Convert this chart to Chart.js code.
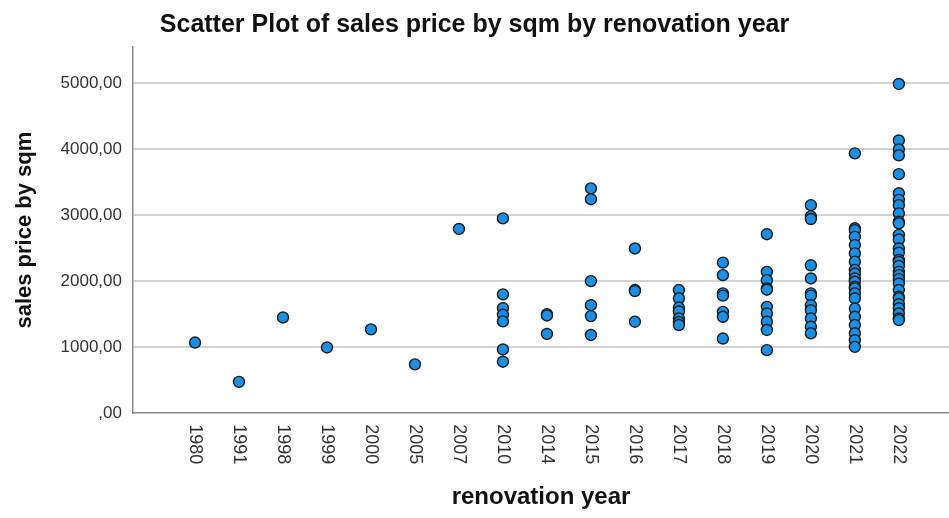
<!DOCTYPE html>
<html>
<head>
<meta charset="utf-8">
<script src="https://cdn.jsdelivr.net/npm/chart.js@4/dist/chart.umd.min.js"></script>
<style>
  html, body { margin: 0; padding: 0; background: #ffffff; }
  #wrap { width: 949px; height: 518px; }
</style>
</head>
<body>
<div id="wrap"><canvas id="c" width="949" height="518"></canvas></div>
<script>
// Categories (renovation year)
const years = ['1980','1991','1998','1999','2000','2005','2007','2010','2014','2015','2016','2017','2018','2019','2020','2021','2022'];
// Y tick values
const yTicks = [0, 1000, 2000, 3000, 4000, 5000];

// Sales price by sqm, per renovation year
const p1980 = [1070];
const p1991 = [475];
const p1998 = [1450];
const p1999 = [995];
const p2000 = [1270];
const p2005 = [740];
const p2007 = [2790];
const p2010 = [2950, 1800, 1590, 1490, 1390, 965, 780];
const p2014 = [1500, 1480, 1200];
const p2015 = [3405, 3240, 2000, 1635, 1470, 1185];
const p2016 = [2495, 1865, 1850, 1385];
const p2017 = [1865, 1740, 1600, 1540, 1435, 1380, 1335];
const p2018 = [2280, 2090, 1815, 1780, 1535, 1460, 1130];
const p2019 = [2710, 2140, 2015, 1890, 1870, 1610, 1510, 1385, 1260, 955];
const p2020 = [3150, 2980, 2940, 2240, 2040, 1815, 1780, 1635, 1560, 1435, 1310, 1210];
const p2021 = [3935, 2800, 2770, 2670, 2545, 2420, 2295, 2170, 2115, 2040, 1990, 1915, 1890, 1815, 1740, 1585, 1460, 1335, 1210, 1105, 1005];
const p2022 = [4985, 4130, 3995, 3905, 3620, 3330, 3230, 3150, 3025, 2900, 2875, 2700, 2630, 2495, 2430, 2320, 2290, 2230, 2140, 2090, 2030, 1965, 1865, 1765, 1740, 1650, 1590, 1510, 1435, 1410];

const priceGroups = [p1980, p1991, p1998, p1999, p2000, p2005, p2007, p2010, p2014, p2015, p2016, p2017, p2018, p2019, p2020, p2021, p2022];

const points = [];
priceGroups.forEach((arr, i) => arr.forEach(v => points.push({ x: i, y: v })));

const fmt = v => (v === 0 ? ',00' : v + ',00');
const FONT = '"Liberation Sans", Arial, sans-serif';

const rotatedXLabels = {
  id: 'rotatedXLabels',
  afterDraw(chart) {
    const xs = chart.scales.x;
    const ctx = chart.ctx;
    ctx.save();
    ctx.fillStyle = '#333333';
    ctx.font = '18px ' + FONT;
    ctx.textAlign = 'left';
    ctx.textBaseline = 'middle';
    years.forEach((lab, i) => {
      const px = xs.getPixelForValue(i);
      ctx.save();
      ctx.translate(px, chart.chartArea.bottom + 11);
      ctx.rotate(Math.PI / 2);
      ctx.fillText(lab, 0, 0);
      ctx.restore();
    });
    ctx.restore();
  }
};

new Chart(document.getElementById('c'), {
  type: 'scatter',
  data: {
    datasets: [{
      data: points,
      backgroundColor: '#1a8fe3',
      borderColor: '#1c1c1c',
      borderWidth: 1.4,
      pointRadius: 5.5,
      pointHoverRadius: 5.5
    }]
  },
  options: {
    responsive: false,
    animation: false,
    layout: { autoPadding: false, padding: { left: 0, right: 0, top: 0, bottom: 6 } },
    plugins: {
      legend: { display: false },
      tooltip: { enabled: false },
      title: {
        display: true,
        text: 'Scatter Plot of sales price by sqm by renovation year',
        color: '#111111',
        font: { family: FONT, size: 25, weight: 'bold' },
        padding: { top: 10, bottom: 7 }
      }
    },
    scales: {
      x: {
        type: 'linear',
        min: -1.41,
        max: 17.14,
        grid: { display: false, drawTicks: false },
        border: { display: true, color: '#8a8a8a', width: 1.5 },
        ticks: { display: false },
        afterBuildTicks: axis => { axis.ticks = years.map((_, i) => ({ value: i })); },
        title: {
          display: true,
          text: 'renovation year',
          color: '#111111',
          font: { family: FONT, size: 24, weight: 'bold' },
          padding: { top: 70, bottom: 0 }
        }
      },
      y: {
        min: 0,
        max: 5545,
        afterBuildTicks: axis => { axis.ticks = yTicks.map(v => ({ value: v })); },
        afterFit: axis => { axis.width = 133; },
        grid: {
          drawTicks: false,
          color: ctx => (ctx.tick && ctx.tick.value === 0 ? 'rgba(0,0,0,0)' : '#d2d2d2'),
          lineWidth: 2
        },
        border: { display: true, color: '#8a8a8a', width: 1.5 },
        ticks: {
          padding: 11,
          color: '#333333',
          font: { family: FONT, size: 17 },
          callback: v => fmt(v)
        },
        title: {
          display: true,
          text: 'sales price by sqm',
          color: '#111111',
          font: { family: FONT, size: 22, weight: 'bold' },
          padding: { top: 12, bottom: 0 }
        }
      }
    }
  },
  plugins: [rotatedXLabels]
});
</script>
</body>
</html>
